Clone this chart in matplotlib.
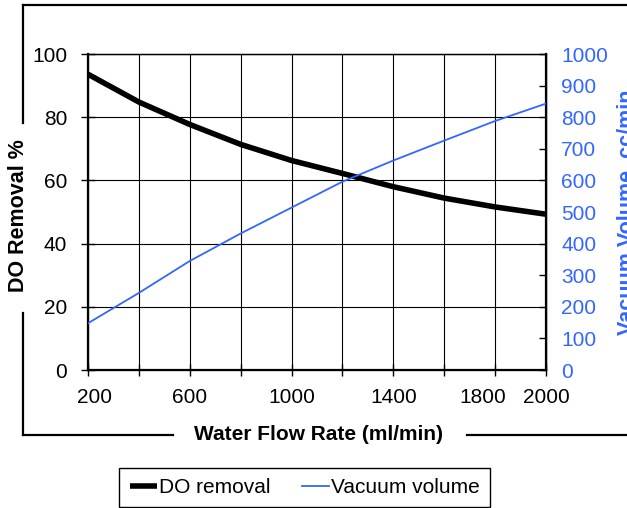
import numpy as np
import matplotlib
matplotlib.use('Agg')
import matplotlib.pyplot as plt
import matplotlib.transforms as mtrans
from matplotlib.lines import Line2D

plt.rcParams['font.family'] = 'Liberation Sans'

# data
flow = [200, 400, 600, 800, 1000, 1200, 1400, 1600, 1800, 2000]
do_removal = [93.6, 84.8, 77.7, 71.4, 66.3, 62.2, 58.0, 54.4, 51.6, 49.3]
vac_volume = [148, 244, 345, 432, 514, 596, 663, 726, 788, 843]

x_ticks = [200, 400, 600, 800, 1000, 1200, 1400, 1600, 1800, 2000]
x_labels = ['200', '', '600', '', '1000', '', '1400', '', '1800', '2000']
y1_ticks = [0, 20, 40, 60, 80, 100]
y2_ticks = [0, 100, 200, 300, 400, 500, 600, 700, 800, 900, 1000]

blue = '#3366FF'
W, H = 627, 508

fig = plt.figure(figsize=(W/100, H/100), dpi=100)

# pixel -> figure fraction
def fx(px):
    return px / W
def fy(py):
    return 1 - py / H

ax = fig.add_axes([fx(88), fy(370), fx(546) - fx(88), fy(54) - fy(370)])
ax2 = ax.twinx()

# lines
l1, = ax.plot(flow, do_removal, color='black', lw=4.0, solid_capstyle='butt', zorder=5)
l2, = ax2.plot(flow, vac_volume, color=blue, lw=1.3, zorder=5)

ax.set_xlim(200, 2000)
ax.set_ylim(0, 100)
ax2.set_ylim(0, 1000)

ax.set_xticks(x_ticks)
ax.set_xticklabels(x_labels)
ax.set_yticks(y1_ticks)
ax2.set_yticks(y2_ticks)

ax.grid(True, color='black', lw=0.8)
ax.set_axisbelow(True)

for s in ax.spines.values():
    s.set_linewidth(1.0)
ax.spines['left'].set_linewidth(1.6)
ax.spines['bottom'].set_linewidth(1.6)
ax2.spines['right'].set_linewidth(1.6)

ax.tick_params(axis='x', direction='inout', length=8, width=1, labelsize=15, pad=9)
ax.tick_params(axis='y', direction='inout', length=10, width=1, labelsize=15, pad=10)
ax2.tick_params(axis='y', direction='in', length=5, width=1, labelsize=15,
                labelcolor=blue, pad=11)

# Excel-like shifted x labels
shift = {'200': 6, '1800': -12}
for lab in ax.get_xticklabels():
    t = lab.get_text()
    if t in shift:
        lab.set_transform(lab.get_transform() +
                          mtrans.ScaledTranslation(shift[t]/100, 0, fig.dpi_scale_trans))

# outer frame with gaps for axis titles
lw_frame = 1.6
frame_segs = [
    ([22.7, 22.7], [5, 123]),
    ([22.7, 22.7], [313, 435]),
    ([22.7, 640], [5, 5]),
    ([22.7, 173], [435, 435]),
    ([467, 640], [435, 435]),
]
for xs, ys in frame_segs:
    fig.add_artist(Line2D([fx(v) for v in xs], [fy(v) for v in ys],
                          color='black', lw=lw_frame, transform=fig.transFigure))

# axis titles
fig.text(fx(319), fy(434), 'Water Flow Rate (ml/min)', ha='center', va='center',
         fontsize=15, fontweight='bold')
fig.text(fx(18.5), fy(216), 'DO Removal %', ha='center', va='center',
         rotation=90, fontsize=15.5, fontweight='bold')
fig.text(fx(627), fy(212), 'Vacuum Volume, cc/min', ha='center', va='center',
         rotation=90, fontsize=15.5, fontweight='bold', color=blue)

# legend
leg = fig.legend([l1, l2], ['DO removal', 'Vacuum volume'], ncol=2,
                 loc='center', bbox_to_anchor=(fx(304.5), fy(487.5)),
                 fontsize=15, frameon=True, fancybox=False, framealpha=1,
                 edgecolor='black', handlelength=1.3, handletextpad=0.1,
                 columnspacing=1.5, borderpad=0.5, borderaxespad=0)
leg.get_frame().set_linewidth(1.0)

plt.savefig('out.png', dpi=100)
plt.close()
